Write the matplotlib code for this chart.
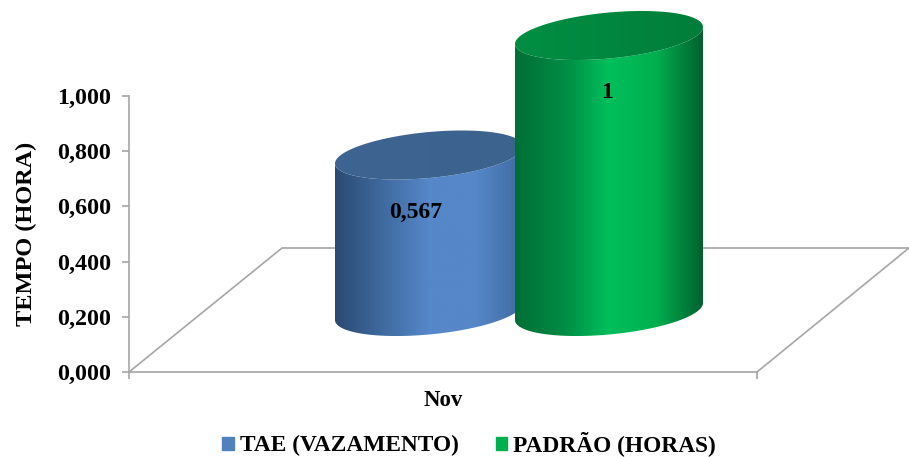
import numpy as np
import matplotlib
matplotlib.use("Agg")
import matplotlib.pyplot as plt
from matplotlib.colors import LinearSegmentedColormap
from matplotlib.patches import Patch, Polygon

categoria = "Nov"
series = ["TAE (VAZAMENTO)", "PADRÃO (HORAS)"]
valores = [0.567, 1.0]
rotulos = ["0,567", "1"]
yticks = [0.0, 0.2, 0.4, 0.6, 0.8, 1.0]
ytick_labels = ["0,000", "0,200", "0,400", "0,600", "0,800", "1,000"]

centros = [300, 480]
rotulo_dx = [-13, -2]
cor_legenda = ["#4f81bd", "#00b050"]
cores_corpo = [
    ["#2b4a72", "#3f6a9f", "#5587c9", "#5587c9", "#3f6a9e"],
    ["#006f36", "#008a43", "#00bf5b", "#00b04f", "#00612f"],
]
cores_topo = [
    ["#3e6592", "#3d6490", "#3c628e"],
    ["#008e42", "#00873f", "#007d3a"],
]

# geometria do cilindro (x em pixels, y em unidades do eixo)
a = 94
incl = 8.5 / 276
b = 23 / 276
base = 60.5 / 276
fundo = 124 / 276

plt.rcParams["font.family"] = ["Liberation Serif", "DejaVu Serif"]
plt.rcParams["font.weight"] = "bold"

fig = plt.figure(figsize=(9.09, 4.57), dpi=100)
ax = fig.add_axes([129 / 909, 85 / 457, 628 / 909, 276 / 457])
ax.set_xlim(0, 628)
ax.set_ylim(0, 1)

# chao
cinza = "#a6a6a6"
ax.plot([0, 153, 780], [0, fundo, fundo], color=cinza, lw=1.2, clip_on=False, zorder=1)
ax.plot([628, 780], [0, fundo], color=cinza, lw=1.2, clip_on=False, zorder=1)


def elipse(cx, cy, t):
    return cx + a * np.cos(t), cy + incl * np.cos(t) + b * np.sin(t)


def gradiente(pontos, cores, z):
    cmap = LinearSegmentedColormap.from_list("g", cores)
    xs = pontos[:, 0]
    ys = pontos[:, 1]
    im = ax.imshow(np.linspace(0, 1, 256)[None, :], cmap=cmap, aspect="auto",
                   extent=[xs.min(), xs.max(), ys.min(), ys.max()], zorder=z,
                   interpolation="bilinear")
    clip = Polygon(pontos, closed=True, transform=ax.transData)
    im.set_clip_box(fig.bbox)
    im.set_clip_path(clip)


for i, v in enumerate(valores):
    cx = centros[i]
    z = 3 + i * 2
    t1 = np.linspace(np.pi, 2 * np.pi, 120)
    t2 = np.linspace(2 * np.pi, np.pi, 120)
    xb, yb = elipse(cx, base, t1)
    xt, yt = elipse(cx, base + v, t2)
    corpo = np.column_stack([np.r_[xb, xt], np.r_[yb, yt]])
    gradiente(corpo, cores_corpo[i], z)
    xe, ye = elipse(cx, base + v, np.linspace(0, 2 * np.pi, 240))
    gradiente(np.column_stack([xe, ye]), cores_topo[i], z + 1)
    ax.text(cx + rotulo_dx[i], base + v - 0.207, rotulos[i], ha="center", va="center",
            fontsize=17, fontweight="bold", color="black", zorder=10)

ax.set_xlim(0, 628)
ax.set_ylim(0, 1)

for lado in ["top", "right"]:
    ax.spines[lado].set_visible(False)
for lado in ["left", "bottom"]:
    ax.spines[lado].set_color(cinza)
    ax.spines[lado].set_linewidth(1.2)

ax.set_yticks(yticks)
ax.set_yticklabels(ytick_labels, fontsize=17.3, fontweight="bold")
ax.set_xticks([0, 628])
ax.set_xticklabels(["", ""])
ax.tick_params(axis="both", color=cinza, length=5, width=1.2, pad=8)
ax.set_ylabel("TEMPO (HORA)", fontsize=17.5, fontweight="bold", labelpad=14)
ax.text(314, -0.103, categoria, ha="center", va="center", fontsize=16.5, fontweight="bold")

handles = [Patch(color=c, label=s) for c, s in zip(cor_legenda, series)]
ax.legend(handles=handles, loc="center", bbox_to_anchor=(469 / 909, 13 / 457),
          bbox_transform=fig.transFigure, ncol=2, frameon=False, fontsize=16.8,
          handlelength=0.5, handleheight=0.5, handletextpad=0.25, columnspacing=1.6,
          borderpad=0)

fig.savefig("out.png", dpi=100)
